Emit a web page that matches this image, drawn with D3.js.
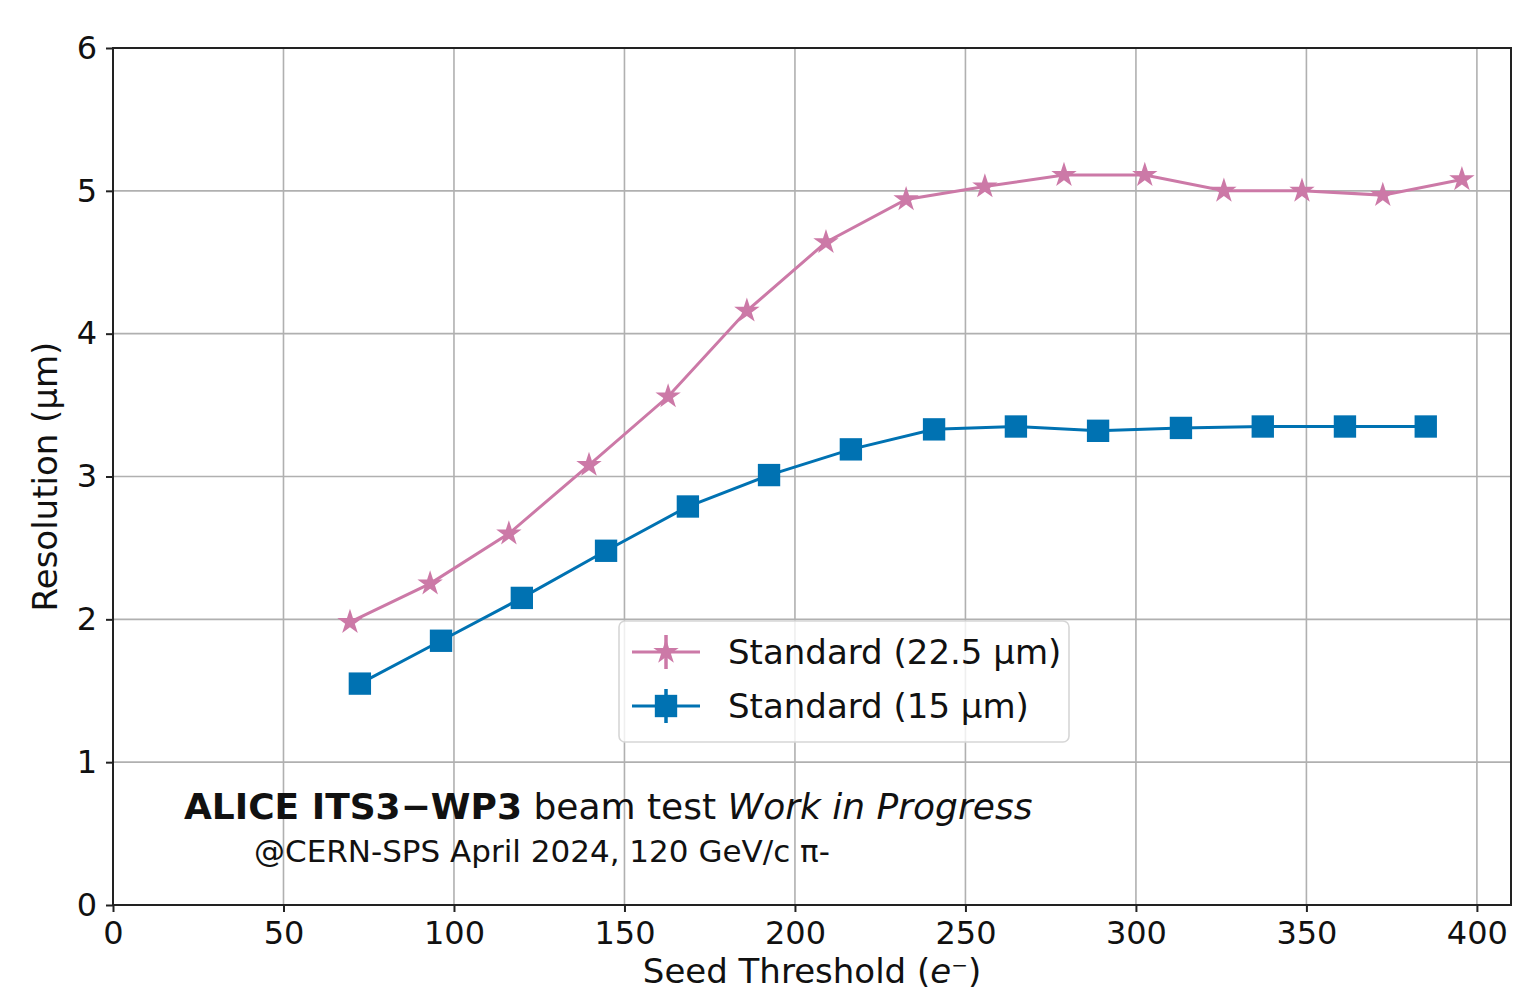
<!DOCTYPE html>
<html>
<head>
<meta charset="utf-8">
<script src="https://cdn.jsdelivr.net/npm/d3@7"></script>
<style>
  body { margin: 0; background: #fff; }
  text { font-family: "DejaVu Sans", sans-serif; fill: #111; }
</style>
</head>
<body>
<script>
// data
const thr225 = [69.5, 93.0, 116.1, 139.6, 162.8, 185.9, 209.1, 232.6, 255.7, 278.9, 302.6, 325.8, 348.7, 372.4, 395.6];
const res225 = [1.98, 2.25, 2.60, 3.08, 3.56, 4.16, 4.64, 4.94, 5.03, 5.11, 5.11, 5.00, 5.00, 4.97, 5.08];
const thr15 = [72.4, 96.2, 119.9, 144.6, 168.6, 192.4, 216.4, 240.8, 264.8, 288.9, 313.2, 337.2, 361.3, 385.0];
const res15 = [1.55, 1.85, 2.15, 2.48, 2.79, 3.01, 3.19, 3.33, 3.35, 3.32, 3.34, 3.35, 3.35, 3.35];
const xTicks = [0, 50, 100, 150, 200, 250, 300, 350, 400];
const yTicks = [0, 1, 2, 3, 4, 5, 6];
const seriesNames = ["Standard (22.5 µm)", "Standard (15 µm)"];

const svgWidth = 1514, svgHeight = 991;
const plotLeft = 113, plotTop = 48, plotRight = 1511, plotBottom = 905;
const pink = "#CC79A7", blue = "#0072B2";

const svg = d3.select("body").append("svg")
            .attr("width", svgWidth)
            .attr("height", svgHeight);

var xScale = d3.scaleLinear().domain([0, 410]).range([plotLeft, plotRight]);
var yScale = d3.scaleLinear().domain([0, 6]).range([plotBottom, plotTop]);

// grid
xTicks.forEach(t => {
  svg.append("line")
     .attr("x1", xScale(t)).attr("x2", xScale(t))
     .attr("y1", plotTop).attr("y2", plotBottom)
     .style("stroke", "#b0b0b0").style("stroke-width", 1.6);
});
yTicks.forEach(t => {
  svg.append("line")
     .attr("x1", plotLeft).attr("x2", plotRight)
     .attr("y1", yScale(t)).attr("y2", yScale(t))
     .style("stroke", "#b0b0b0").style("stroke-width", 1.6);
});

// axes
var x_axis = d3.axisBottom(xScale).tickValues(xTicks).tickSize(7).tickPadding(9);
var y_axis = d3.axisLeft(yScale).tickValues(yTicks).tickFormat(d3.format("d")).tickSize(7).tickPadding(9);
const gx = svg.append("g").attr("transform", "translate(0," + plotBottom + ")").call(x_axis);
const gy = svg.append("g").attr("transform", "translate(" + plotLeft + ",0)").call(y_axis);
[gx, gy].forEach(g => {
  g.select(".domain").remove();
  g.selectAll(".tick line").style("stroke", "#222").style("stroke-width", 2);
  g.selectAll(".tick text").style("font-size", "32px").style("font-family", "DejaVu Sans").attr("fill", "#111");
});

// frame
svg.append("rect")
   .attr("x", plotLeft).attr("y", plotTop)
   .attr("width", plotRight - plotLeft).attr("height", plotBottom - plotTop)
   .attr("fill", "none").style("stroke", "#222").style("stroke-width", 2);

// axis labels
svg.append("text")
   .attr("x", (plotLeft + plotRight) / 2).attr("y", 983)
   .attr("text-anchor", "middle").style("font-size", "34px")
   .html("Seed Threshold (<tspan font-style='italic'>e</tspan><tspan dy='-11' font-size='20px'>−</tspan><tspan dy='11'>)</tspan>");
svg.append("text")
   .attr("transform", "translate(57," + ((plotTop + plotBottom) / 2) + ") rotate(-90)")
   .attr("text-anchor", "middle").style("font-size", "34px")
   .text("Resolution (µm)");

const line = d3.line().x(d => xScale(d[0])).y(d => yScale(d[1]));
const star = d3.symbol().type(d3.symbolStar).size(200);
const square = d3.symbol().type(d3.symbolSquare).size(500);

function drawSeries(xs, ys, color, sym) {
  const pts = xs.map((x, i) => [x, ys[i]]);
  svg.append("path").attr("d", line(pts))
     .attr("fill", "none").attr("stroke", color).attr("stroke-width", 3);
  svg.selectAll(null).data(pts).enter().append("path")
     .attr("d", sym)
     .attr("transform", d => "translate(" + xScale(d[0]) + "," + yScale(d[1]) + ")")
     .attr("fill", color);
}
drawSeries(thr225, res225, pink, star);
drawSeries(thr15, res15, blue, square);

// legend
const legend = svg.append("g");
legend.append("rect")
      .attr("x", 619).attr("y", 621).attr("width", 450).attr("height", 121)
      .attr("rx", 6).attr("fill", "#fff").attr("fill-opacity", 0.8)
      .style("stroke", "#d6d6d6").style("stroke-width", 1.6);
const legendItems = [
  { name: seriesNames[0], color: pink, sym: star, y: 652 },
  { name: seriesNames[1], color: blue, sym: square, y: 706 }
];
legendItems.forEach(it => {
  legend.append("line").attr("x1", 632).attr("x2", 700).attr("y1", it.y).attr("y2", it.y)
        .attr("stroke", it.color).attr("stroke-width", 3);
  legend.append("line").attr("x1", 666).attr("x2", 666).attr("y1", it.y - 17).attr("y2", it.y + 17)
        .attr("stroke", it.color).attr("stroke-width", 3.5);
  legend.append("path").attr("d", it.sym)
        .attr("transform", "translate(666," + it.y + ")").attr("fill", it.color);
  legend.append("text").attr("x", 728).attr("y", it.y + 12)
        .style("font-size", "34px").text(it.name);
});

// annotation
svg.append("text").attr("x", 184).attr("y", 819).style("font-size", "36px")
   .html("<tspan font-weight='bold'>ALICE ITS3−WP3</tspan> beam test <tspan font-style='italic'>Work in Progress</tspan>");
svg.append("text").attr("x", 254).attr("y", 862).style("font-size", "31px")
   .text("@CERN-SPS April 2024, 120 GeV/c π-");
</script>
</body>
</html>
